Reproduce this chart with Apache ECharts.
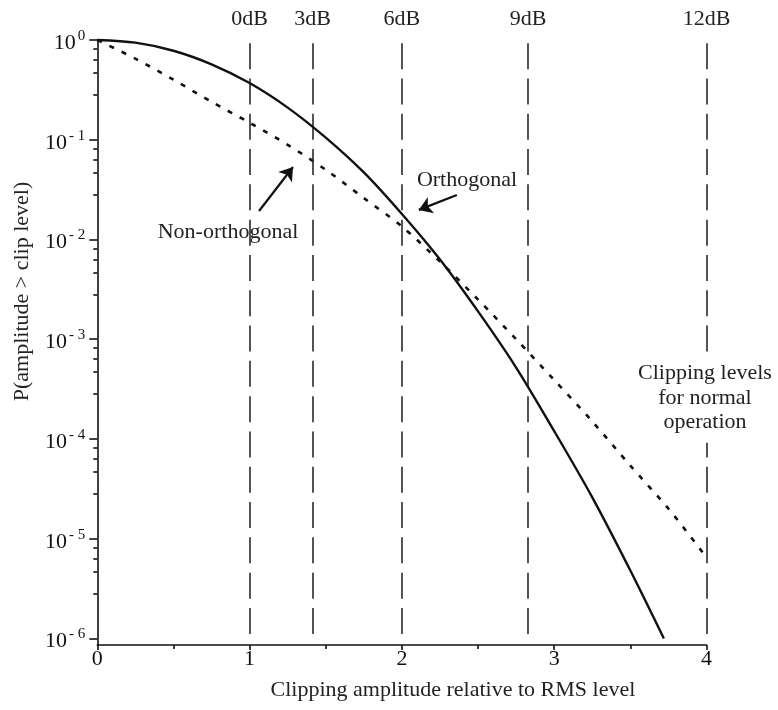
<!DOCTYPE html>
<html>
<head>
<meta charset="utf-8">
<script src="https://cdn.jsdelivr.net/npm/echarts@6/dist/echarts.min.js"></script>
<style>
  html, body { margin: 0; padding: 0; background: #fff; }
  #chart { width: 778px; height: 710px; }
</style>
</head>
<body>
<div id="chart"></div>
<script>
// Probability that the signal amplitude exceeds a clip level
const xOrthogonal = [0, 0.25, 0.5, 0.75, 1, 1.25, 1.5, 1.75, 2, 2.25, 2.5, 2.75, 3, 3.25, 3.5, 3.72];
const orthogonal = [1.0, 0.94, 0.78, 0.57, 0.37, 0.21, 0.105, 0.047, 0.018, 0.0063, 0.0019, 5.2e-4, 1.2e-4, 2.6e-5, 4.8e-6, 1.0e-6];

const xNonOrthogonal = [0, 0.25, 0.5, 0.75, 1, 1.25, 1.5, 1.75, 2, 2.25, 2.5, 2.75, 3, 3.25, 3.5, 3.75, 4];
const nonOrthogonal = [1.0, 0.65, 0.40, 0.24, 0.148, 0.089, 0.050, 0.026, 0.0135, 0.0060, 0.0025, 1.0e-3, 3.9e-4, 1.5e-4, 5.4e-5, 2.0e-5, 6.5e-6];

// Clipping levels (amplitude relative to RMS) and their dB names
const clipLevels = [1, 1.414, 2, 2.828, 4];
const clipNames = ['0dB', '3dB', '6dB', '9dB', '12dB'];

// Axis ticks
const xTicks = [0, 1, 2, 3, 4];
const yMajorTicks = [1, 1e-1, 1e-2, 1e-3, 1e-4, 1e-5, 1e-6];
const yMinorOffsets = [0.09, 0.2, 0.33, 0.55]; // decades below each major tick

// Annotation arrows (data coordinates)
const arrowNonOrth = { from: [1.062, 0.0193], to: [1.285, 0.0533] };
const arrowOrth = { from: [2.361, 0.0279], to: [2.111, 0.0198] };

const yMin = 8.6e-7;
const yMax = 1;
const FONT = '"Liberation Serif", "Times New Roman", serif';
const INK = '#111';

const yMinorTicks = [];
yMajorTicks.slice(0, -1).forEach(function (m) {
  yMinorOffsets.forEach(function (o) { yMinorTicks.push(m * Math.pow(10, -o)); });
});

function pairs(xs, ys) { return xs.map(function (x, i) { return [x, ys[i]]; }); }

const chart = echarts.init(document.getElementById('chart'), null, { renderer: 'canvas' });

chart.setOption({
  animation: false,
  backgroundColor: '#fff',
  grid: { left: 97.3, right: 71.5, top: 40, bottom: 65 },
  xAxis: {
    type: 'value',
    min: 0, max: 4, interval: 1,
    name: 'Clipping amplitude relative to RMS level',
    nameLocation: 'middle',
    nameGap: 34,
    nameTextStyle: { fontFamily: FONT, fontSize: 22, color: '#222', padding: [0, 0, 0, 102] },
    axisLine: { show: true, onZero: false, lineStyle: { color: INK, width: 1.6 } },
    axisTick: { show: true, length: 5, lineStyle: { color: INK, width: 1.6 } },
    minorTick: { show: true, splitNumber: 2, length: 4, lineStyle: { color: INK, width: 1.6 } },
    axisLabel: { margin: 3, fontFamily: FONT, fontSize: 22, color: '#111',
      customValues: xTicks },
    splitLine: { show: false }
  },
  yAxis: [{
    type: 'log',
    logBase: 10,
    min: yMin, max: yMax,
    position: 'left',
    name: 'P(amplitude > clip level)',
    nameLocation: 'middle',
    nameGap: 64,
    nameRotate: 90,
    nameTextStyle: { fontFamily: FONT, fontSize: 22, color: '#222', padding: [0, 0, 0, 102] },
    axisLine: { show: true, lineStyle: { color: INK, width: 1.6 } },
    axisTick: { show: true, length: 8, customValues: yMajorTicks, lineStyle: { color: INK, width: 1.6 } },
    axisLabel: {
      customValues: yMajorTicks,
      margin: 12,
      formatter: function (v) {
        const e = Math.round(Math.log10(v));
        return '{b|10}{s|' + (e === 0 ? '0' : '- ' + (-e)) + '}';
      },
      rich: {
        b: { fontFamily: FONT, fontSize: 22, color: '#111', padding: [6, 0, 0, 0] },
        s: { fontFamily: FONT, fontSize: 15, color: '#111', padding: [0, 0, 8, 2] }
      }
    },
    splitLine: { show: false }
  }, {
    type: 'log',
    logBase: 10,
    min: yMin, max: yMax,
    position: 'left',
    offset: 0,
    axisLine: { show: false },
    axisTick: { show: true, length: 4, customValues: yMinorTicks, lineStyle: { color: INK, width: 1.6 } },
    axisLabel: { show: false },
    splitLine: { show: false }
  }],
  series: [{
    name: 'Orthogonal',
    type: 'line',
    data: pairs(xOrthogonal, orthogonal),
    smooth: 0.3,
    symbol: 'none',
    clip: false,
    lineStyle: { color: INK, width: 2.4 },
    z: 5,
    markLine: {
      silent: true,
      symbol: ['none', 'none'],
      lineStyle: { color: '#2a2a2a', width: 1.6, type: [26, 9.3] },
      label: {
        show: true, position: 'start', distance: 13, formatter: '{b}',
        fontFamily: FONT, fontSize: 22, color: '#222'
      },
      emphasis: { disabled: true },
      data: clipLevels.map(function (v, i) {
        return [{ name: clipNames[i], coord: [v, 0.93] }, { coord: [v, 1e-6] }];
      })
    }
  }, {
    name: 'Non-orthogonal',
    type: 'line',
    data: pairs(xNonOrthogonal, nonOrthogonal),
    smooth: 0.3,
    symbol: 'none',
    clip: false,
    lineStyle: { color: INK, width: 2.6, type: [5, 8.5] },
    z: 4,
    markLine: {
      silent: true,
      symbol: ['none', 'arrow'],
      symbolSize: 13,
      lineStyle: { color: INK, width: 2.2, type: 'solid' },
      label: { show: false },
      emphasis: { disabled: true },
      data: [
        [{ coord: arrowNonOrth.from }, { coord: arrowNonOrth.to }],
        [{ coord: arrowOrth.from }, { coord: arrowOrth.to }]
      ]
    }
  }],
  graphic: [{
    type: 'text', x: 228, y: 232, z: 10,
    style: { text: 'Non-orthogonal', font: '22px ' + FONT, fill: '#222', align: 'center', verticalAlign: 'middle' }
  }, {
    type: 'text', x: 467, y: 180, z: 10,
    style: { text: 'Orthogonal', font: '22px ' + FONT, fill: '#222', align: 'center', verticalAlign: 'middle' }
  }, {
    type: 'text', x: 705, y: 398, z: 10,
    style: {
      text: 'Clipping levels\nfor normal\noperation', font: '22px ' + FONT, fill: '#222',
      align: 'center', verticalAlign: 'middle', lineHeight: 24.5,
      backgroundColor: '#fff', padding: [8, 0, 8, 0]
    }
  }]
});
</script>
</body>
</html>
